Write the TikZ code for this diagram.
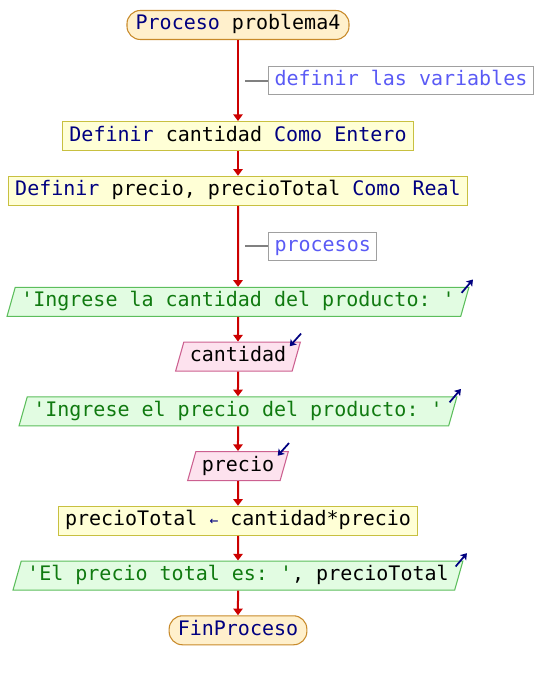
\documentclass[tikz,border=0pt]{standalone}
\usepackage{fontspec}
\setmonofont{DejaVu Sans Mono}
\usepackage{tikz}
\usetikzlibrary{arrows.meta}
\usetikzlibrary{calc,positioning}
\usetikzlibrary{shapes.geometric}

\definecolor{kwblue}{HTML}{000080}
\definecolor{strgreen}{HTML}{107A10}
\definecolor{flowred}{HTML}{CC0000}
\definecolor{startfill}{HTML}{FFF0CC}
\definecolor{startdraw}{HTML}{C88A2A}
\definecolor{procfill}{HTML}{FFFFD6}
\definecolor{procdraw}{HTML}{C8C040}
\definecolor{outfill}{HTML}{E2FCE2}
\definecolor{outdraw}{HTML}{5CBE5C}
\definecolor{infill}{HTML}{FDE2EE}
\definecolor{indraw}{HTML}{CC6090}
\definecolor{comtext}{HTML}{5A5AF5}
\definecolor{comdraw}{HTML}{A0A0A0}

\newcommand{\kw}[1]{\textcolor{kwblue}{#1}}
\newcommand{\str}[1]{\textcolor{strgreen}{#1}}

\begin{document}
\begin{tikzpicture}[
    font=\ttfamily\fontsize{15}{18}\selectfont, node distance=18.5pt,
    base/.style={text height=11pt, text depth=3.5pt, minimum height=21.75pt, inner ysep=0pt, line width=0.8pt},
    startbox/.style={base, rectangle, rounded corners=10pt, fill=startfill, draw=startdraw, inner xsep=6.5pt, text=kwblue},
    procbox/.style={base, rectangle, fill=procfill, draw=procdraw, inner xsep=5pt},
    iobox/.style={base, trapezium, trapezium stretches=true, trapezium left angle=67, trapezium right angle=113, inner xsep=4.5pt},
    outbox/.style={iobox, fill=outfill, draw=outdraw},
    inbox/.style={iobox, fill=infill, draw=indraw},
    commentbox/.style={base, rectangle, draw=comdraw, text=comtext, inner xsep=4.5pt, minimum height=21pt},
    flow/.style={draw=flowred, line width=1.5pt, -{Triangle[width=7pt,length=5pt]}},
    commentline/.style={draw=gray, line width=1.5pt},
    icon/.style={draw=kwblue, line width=1.3pt, -{Stealth[width=6pt,length=4.5pt,inset=1pt]}}]

    \node (inicio) [startbox] {Proceso \textcolor{black}{problema4}};
    \node (defcant) [procbox, below=60.75pt of inicio] {\kw{Definir} cantidad \kw{Como Entero}};
    \node (defprecio) [procbox, below=of defcant] {\kw{Definir} precio, precioTotal \kw{Como Real}};
    \node (pidecant) [outbox, below=60.75pt of defprecio] {\str{'Ingrese la cantidad del producto: '}};
    \node (leecant) [inbox, below=of pidecant] {cantidad};
    \node (pideprecio) [outbox, below=of leecant] {\str{'Ingrese el precio del producto: '}};
    \node (leeprecio) [inbox, below=of pideprecio] {precio};
    \node (calcula) [procbox, below=of leeprecio] {precioTotal \kw{\fontsize{11}{12}\selectfont←} cantidad*precio};
    \node (muestra) [outbox, below=of calcula] {\str{'El precio total es: '}, precioTotal};
    \node (fin) [startbox, below=of muestra] {FinProceso};

    % comentarios
    \coordinate (c1) at ($(inicio.south)!0.5!(defcant.north)$);
    \coordinate (c1a) at ($(c1)+(5.25pt,0)$);
    \node (com1) [commentbox, anchor=west] at ($(c1)+(22.5pt,0)$) {definir las variables};
    \coordinate (c2) at ($(defprecio.south)!0.5!(pidecant.north)$);
    \coordinate (c2a) at ($(c2)+(5.25pt,0)$);
    \node (com2) [commentbox, anchor=west] at ($(c2)+(22.5pt,0)$) {procesos};
    \draw[commentline] (c1a) -- (com1);
    \draw[commentline] (c2a) -- (com2);

    \draw[flow] (inicio) -- (defcant);
    \draw[flow] (defcant) -- (defprecio);
    \draw[flow] (defprecio) -- (pidecant);
    \draw[flow] (pidecant) -- (leecant);
    \draw[flow] (leecant) -- (pideprecio);
    \draw[flow] (pideprecio) -- (leeprecio);
    \draw[flow] (leeprecio) -- (calcula);
    \draw[flow] (calcula) -- (muestra);
    \draw[flow] (muestra) -- (fin);

    % iconos de entrada/salida
    \foreach \n in {pidecant, pideprecio, muestra}
        \draw[icon] ($(\n.top right corner)+(-6pt,-4.5pt)$) -- ++(8.5pt,10pt);
    \foreach \n in {leecant, leeprecio}
        \draw[icon] ($(\n.top right corner)+(0pt,6pt)$) -- ++(-8.5pt,-9.5pt);

    \useasboundingbox ($(inicio.center)+(-178.5pt,18.75pt)$) rectangle ($(inicio.center)+(228pt,-491.25pt)$);
\end{tikzpicture}
\end{document}
